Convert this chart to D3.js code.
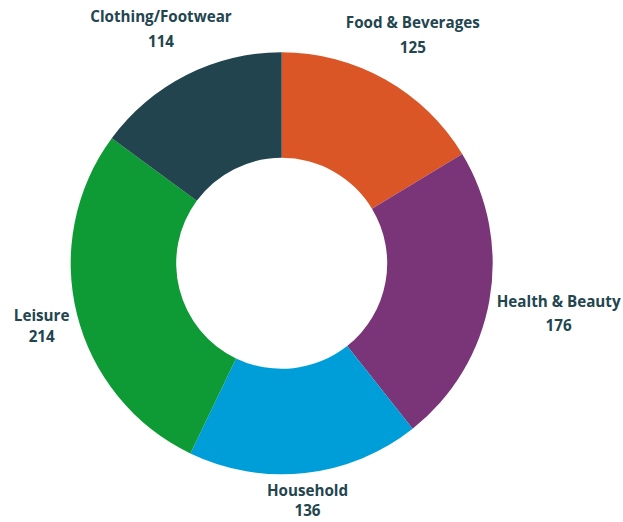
<!DOCTYPE html>
<html>
<head>
<meta charset="utf-8">
<script src="https://cdn.jsdelivr.net/npm/d3@7"></script>
<style>
  html, body { margin: 0; padding: 0; background: #fff; }
  text { font-family: "Open Sans", sans-serif; font-weight: 700; }
</style>
</head>
<body>
<div id="chart"></div>
<script>
// data
var categories = ["Food & Beverages", "Health & Beauty", "Household", "Leisure", "Clothing/Footwear"];
var values = [125, 176, 136, 214, 114];
var colors = ["#db5626", "#7a3579", "#009ed8", "#0e9a35", "#21444e"];

var width = 623, height = 522;
var cx = 281.7, cy = 263.3;
var outer = 211, inner = 105.5;
var labelR = 220;

var svg = d3.select("#chart")
  .append("svg")
  .attr("width", width)
  .attr("height", height);

var g = svg.append("g")
  .attr("transform", "translate(" + cx + "," + cy + ")");

var pie = d3.pie().sort(null).value(d => d.value);
var arcs = pie(categories.map((c, i) => ({ name: c, value: values[i], color: colors[i] })));

var arc = d3.arc().innerRadius(inner).outerRadius(outer);

g.selectAll("path")
  .data(arcs)
  .join("path")
  .attr("d", arc)
  .attr("fill", d => d.data.color);

// labels, placed outside the ring by mid angle
var lab = g.selectAll("g.label")
  .data(arcs)
  .join("g")
  .attr("class", "label");

lab.append("text")
  .attr("class", "name")
  .attr("text-anchor", "middle")
  .attr("dominant-baseline", "central")
  .attr("font-size", 15.2)
  .attr("fill", "#22454f")
  .text(d => d.data.name);

// line box grows when the name has descenders
lab.append("text")
  .attr("class", "val")
  .attr("text-anchor", "middle")
  .attr("dominant-baseline", "central")
  .attr("y", d => /[gypqj]/.test(d.data.name) ? 24.5 : 20.5)
  .attr("font-size", 15.2)
  .attr("fill", "#22454f")
  .text(d => d.data.value);

lab.attr("transform", function(d) {
  var a = (d.startAngle + d.endAngle) / 2;
  var s = Math.sin(a), c = Math.cos(a);
  var w = d3.select(this).select("text.name").node().getComputedTextLength() / 2;
  var x = labelR * s + s * w * Math.sqrt(Math.abs(s));
  var y = -222 * c + (c > 0 ? -c * 55 : c * c * 8 - 2);
  return "translate(" + x + "," + y + ")";
});
</script>
</body>
</html>
